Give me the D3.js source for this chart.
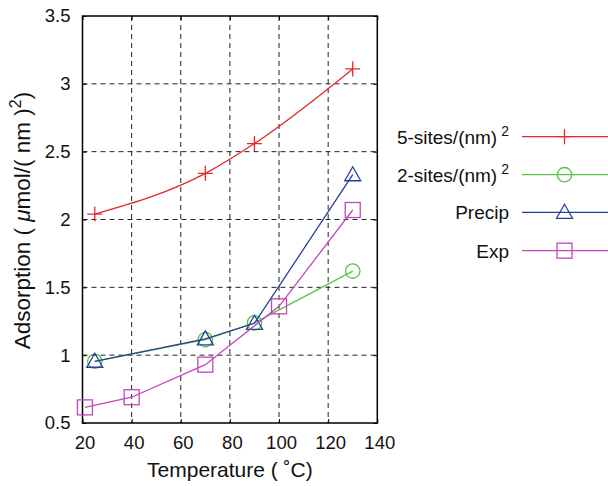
<!DOCTYPE html>
<html><head><meta charset="utf-8">
<script src="https://cdn.jsdelivr.net/npm/d3@7"></script>
<style>body{margin:0;background:#fff}svg{display:block;font-family:"Liberation Sans",Arial,sans-serif}</style>
</head><body>
<svg id="c" width="608" height="486"></svg>
<script>
const xTicks = [20,40,60,80,100,120,140];
const yTicks = [0.5,1,1.5,2,2.5,3,3.5];
const yTickLabels = ["0.5","1","1.5","2","2.5","3","3.5"];
const seriesNames = ["5-sites/(nm)", "2-sites/(nm)", "Precip", "Exp"];
const fiveSitesT = [25,70,90,130];
const fiveSitesV = [2.04,2.34,2.56,3.11];
const twoSitesT = [25,70,90,130];
const twoSitesV = [0.955,1.115,1.238,1.62];
const precipT = [25,70,90,130];
const precipV = [0.955,1.12,1.235,2.33];
const expT = [21,40,70,100,130];
const expV = [0.615,0.69,0.93,1.36,2.07];
const colors = ["#e42a26","#58c444","#24409e","#c445bf"];
const markers = ["plus","circle","triangle","square"];

const svg = d3.select("#c");
const L=82.5,R=377.3,T=16,B=423;
const x = d3.scaleLinear().domain([20,140]).range([L,R]);
const y = d3.scaleLinear().domain([0.5,3.5]).range([B,T]);

// grid
const g = svg.append("g");
g.selectAll(".gx").data(xTicks.slice(1,-1)).enter().append("line")
 .attr("x1",d=>x(d)).attr("x2",d=>x(d)).attr("y1",T).attr("y2",B)
 .attr("stroke","#222").attr("stroke-width",1).attr("stroke-dasharray","5,4");
g.selectAll(".gy").data(yTicks.slice(1,-1)).enter().append("line")
 .attr("y1",d=>y(d)).attr("y2",d=>y(d)).attr("x1",L).attr("x2",R)
 .attr("stroke","#222").attr("stroke-width",1).attr("stroke-dasharray","5,4");

// axes with inward ticks
const ax = svg.append("g").attr("transform",`translate(0,${B})`)
 .call(d3.axisBottom(x).tickValues(xTicks).tickSize(-4).tickPadding(10).tickFormat(d3.format("d")));
const ay = svg.append("g").attr("transform",`translate(${L},0)`)
 .call(d3.axisLeft(y).tickValues(yTicks).tickSize(-4).tickPadding(12).tickFormat((d,i)=>yTickLabels[i]));
const axT = svg.append("g").attr("transform",`translate(0,${T})`)
 .call(d3.axisTop(x).tickValues(xTicks).tickSize(-4).tickFormat(""));
const ayR = svg.append("g").attr("transform",`translate(${R},0)`)
 .call(d3.axisRight(y).tickValues(yTicks).tickSize(-4).tickFormat(""));
[ax,ay,axT,ayR].forEach(a=>{
  a.select(".domain").remove();
  a.selectAll("line").attr("stroke","#000").attr("stroke-width",1);
  a.selectAll("text").attr("font-size",18.5).attr("fill","#111").attr("font-family","Liberation Sans, Arial, sans-serif");
});
ax.selectAll("text").attr("dy","0.85em").attr("dx",2);
svg.append("rect").attr("x",L).attr("y",T).attr("width",R-L).attr("height",B-T)
 .attr("fill","none").attr("stroke","#000").attr("stroke-width",1.5);

// markers
function drawMarker(sel, type, cx, cy, color){
  if(type==="plus"){
    sel.append("path").attr("d",`M${cx-7.5},${cy}H${cx+7.5}M${cx},${cy-7.5}V${cy+7.5}`)
     .attr("stroke",color).attr("stroke-width",1.3).attr("fill","none");
  } else if(type==="circle"){
    sel.append("circle").attr("cx",cx).attr("cy",cy).attr("r",7.2)
     .attr("stroke",color).attr("stroke-width",1.3).attr("fill","none");
  } else if(type==="triangle"){
    sel.append("path").attr("d",`M${cx},${cy-8}L${cx+8},${cy+6}L${cx-8},${cy+6}Z`)
     .attr("stroke",color).attr("stroke-width",1.3).attr("fill","none");
  } else {
    sel.append("rect").attr("x",cx-7.5).attr("y",cy-7.5).attr("width",15).attr("height",15)
     .attr("stroke",color).attr("stroke-width",1.3).attr("fill","none");
  }
}

const series = [
  {t:fiveSitesT,v:fiveSitesV,curve:d3.curveMonotoneX},
  {t:twoSitesT,v:twoSitesV,curve:d3.curveLinear},
  {t:precipT,v:precipV,curve:d3.curveLinear},
  {t:expT,v:expV,curve:d3.curveLinear}
];
series.forEach((s,i)=>{
  const pts = s.t.map((t,j)=>[t,s.v[j]]);
  const line = d3.line().x(d=>x(d[0])).y(d=>y(d[1])).curve(s.curve);
  const sg = svg.append("g");
  sg.append("path").attr("d",line(pts)).attr("fill","none").attr("stroke",colors[i]).attr("stroke-width",1.3);
  pts.forEach(p=>drawMarker(sg,markers[i],x(p[0]),y(p[1]),colors[i]));
});

// legend
const legY = [136.7,174.7,212.3,250.7];
seriesNames.forEach((n,i)=>{
  const lg = svg.append("g");
  const tx = lg.append("text").attr("x",509).attr("y",legY[i]+7).attr("text-anchor","end")
    .attr("font-size",19).attr("fill","#111");
  tx.append("tspan").text(n);
  if(i<2) tx.append("tspan").attr("dx",4).attr("dy",-8).attr("font-size",14).text("2");
  lg.append("line").attr("x1",522).attr("x2",608).attr("y1",legY[i]).attr("y2",legY[i])
    .attr("stroke",colors[i]).attr("stroke-width",1.3);
  drawMarker(lg,markers[i],564.5,legY[i],colors[i]);
});

// axis titles
svg.append("text").attr("x",(L+R)/2).attr("y",477).attr("text-anchor","middle")
 .attr("font-size",21).attr("fill","#111").text("Temperature ( \u02DAC)");
const yt = svg.append("text").attr("transform",`translate(30,${(T+B)/2+1}) rotate(-90)`)
 .attr("text-anchor","middle").attr("font-size",22.5).attr("fill","#111");
yt.append("tspan").text("Adsorption ( ");
yt.append("tspan").attr("font-style","italic").text("\u03BC");
yt.append("tspan").text("mol/( nm )");
yt.append("tspan").attr("dy",-9).attr("font-size",16).text("2");
yt.append("tspan").attr("dy",9).text(")");
</script>
</body></html>
